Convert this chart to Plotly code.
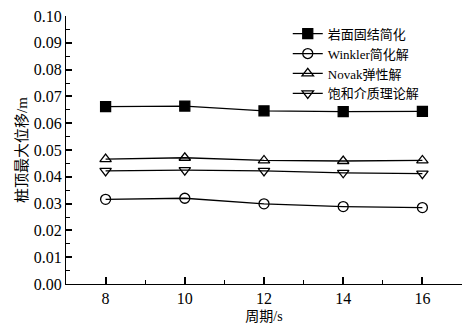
import plotly.graph_objects as go

periods = [8, 10, 12, 14, 16]
rock_fixed = [0.0662, 0.0664, 0.0646, 0.0643, 0.0644]
winkler = [0.0316, 0.0320, 0.0299, 0.0289, 0.0285]
novak = [0.0466, 0.0471, 0.0461, 0.0459, 0.0461]
saturated = [0.0422, 0.0425, 0.0422, 0.0415, 0.0412]

series = [
    ("岩面固结简化", rock_fixed, "square"),
    ("Winkler简化解", winkler, "circle-open"),
    ("Novak弹性解", novak, "triangle-up-open"),
    ("饱和介质理论解", saturated, "triangle-down-open"),
]

fig = go.Figure()
for name, vals, sym in series:
    fig.add_trace(go.Scatter(
        x=periods, y=vals, name=name, mode="lines+markers",
        line=dict(color="black", width=1.3),
        marker=dict(symbol=sym, size=10, color="black",
                    line=dict(color="black", width=1.3)),
    ))

font_main = "Liberation Serif, Noto Sans CJK SC, serif"

fig.update_layout(
    width=462, height=329,
    margin=dict(l=66, r=0, t=16, b=45),
    paper_bgcolor="white", plot_bgcolor="white",
    font=dict(family=font_main, size=16, color="black"),
    showlegend=True,
    legend=dict(x=0.56, y=0.99, xanchor="left", yanchor="top",
                bgcolor="rgba(0,0,0,0)", font=dict(size=13),
                tracegroupgap=0, itemwidth=30),
)
fig.update_xaxes(
    range=[7, 17], tickvals=[8, 10, 12, 14, 16],
    showline=True, linecolor="black", linewidth=1.3,
    ticks="inside", ticklen=7, tickwidth=1.5, tickcolor="black",
    minor=dict(ticks="inside", dtick=1, ticklen=4, tickwidth=1.3,
               tickcolor="black"),
    showgrid=False, zeroline=False, layer="above traces",
    title=dict(text="周期/s", standoff=4, font=dict(size=14)),
)
fig.update_yaxes(
    range=[0, 0.10], dtick=0.01, tickformat=".2f",
    showline=True, linecolor="black", linewidth=1.3,
    ticks="inside", ticklen=6, tickwidth=1.5, tickcolor="black",
    minor=dict(ticks="inside", dtick=0.005, ticklen=4, tickwidth=1.3,
               tickcolor="black"),
    showgrid=False, zeroline=False, layer="above traces",
    title=dict(text="桩顶最大位移/m", standoff=2, font=dict(size=15)),
)

fig.write_html("out.html")
